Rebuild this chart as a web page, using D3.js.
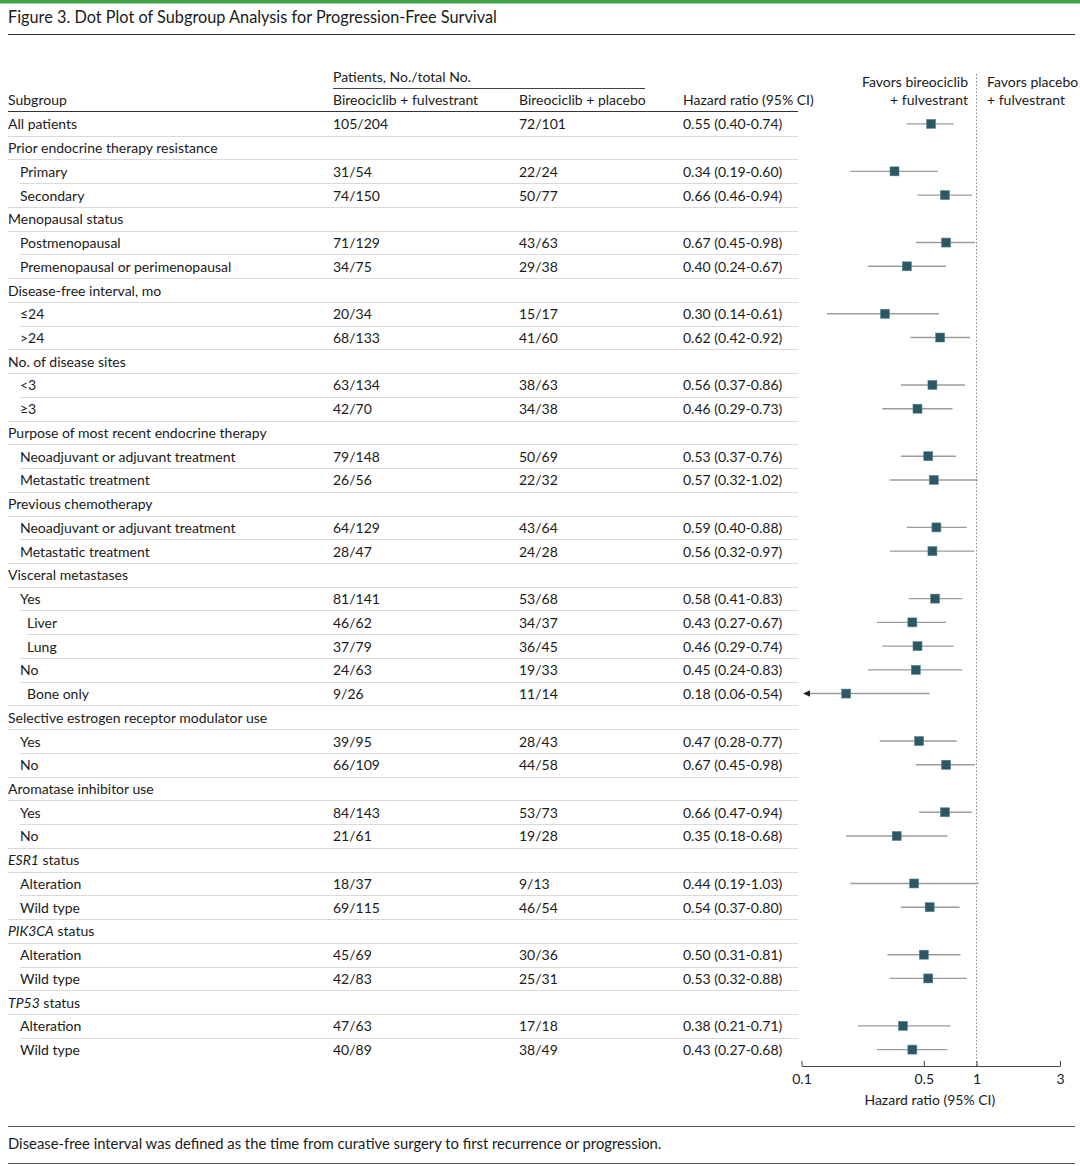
<!DOCTYPE html>
<html><head><meta charset="utf-8">
<script src="https://cdn.jsdelivr.net/npm/d3@7"></script>
<style>
body{margin:0;background:#fff}
svg{display:block}
text{font-family:Lato,"Noto Sans",sans-serif;fill:#1a1a1a}
</style>
</head><body>
<svg id="chart" width="1080" height="1166"></svg>
<script>
// ---------------- DATA ----------------
const labels = [
  "All patients","Prior endocrine therapy resistance","Primary","Secondary",
  "Menopausal status","Postmenopausal","Premenopausal or perimenopausal",
  "Disease-free interval, mo","≤24",">24",
  "No. of disease sites","<3","≥3",
  "Purpose of most recent endocrine therapy","Neoadjuvant or adjuvant treatment","Metastatic treatment",
  "Previous chemotherapy","Neoadjuvant or adjuvant treatment","Metastatic treatment",
  "Visceral metastases","Yes","Liver","Lung","No","Bone only",
  "Selective estrogen receptor modulator use","Yes","No",
  "Aromatase inhibitor use","Yes","No",
  "ESR1 status","Alteration","Wild type",
  "PIK3CA status","Alteration","Wild type",
  "TP53 status","Alteration","Wild type"
];
const levels = [0,0,1,1, 0,1,1, 0,1,1, 0,1,1, 0,1,1, 0,1,1, 0,1,2,2,1,2, 0,1,1, 0,1,1, 0,1,1, 0,1,1, 0,1,1];
const italicWords = ["","","","","","","","","","","","","","","","","","","","","","","","","","","","","","","","ESR1","","","PIK3CA","","","TP53","",""];
const armFulvestrant = ["105/204",null,"31/54","74/150",null,"71/129","34/75",null,"20/34","68/133",null,"63/134","42/70",null,"79/148","26/56",null,"64/129","28/47",null,"81/141","46/62","37/79","24/63","9/26",null,"39/95","66/109",null,"84/143","21/61",null,"18/37","69/115",null,"45/69","42/83",null,"47/63","40/89"];
const armPlacebo = ["72/101",null,"22/24","50/77",null,"43/63","29/38",null,"15/17","41/60",null,"38/63","34/38",null,"50/69","22/32",null,"43/64","24/28",null,"53/68","34/37","36/45","19/33","11/14",null,"28/43","44/58",null,"53/73","19/28",null,"9/13","46/54",null,"30/36","25/31",null,"17/18","38/49"];
const hazardRatio = [0.55,null,0.34,0.66,null,0.67,0.40,null,0.30,0.62,null,0.56,0.46,null,0.53,0.57,null,0.59,0.56,null,0.58,0.43,0.46,0.45,0.18,null,0.47,0.67,null,0.66,0.35,null,0.44,0.54,null,0.50,0.53,null,0.38,0.43];
const ciLow  = [0.40,null,0.19,0.46,null,0.45,0.24,null,0.14,0.42,null,0.37,0.29,null,0.37,0.32,null,0.40,0.32,null,0.41,0.27,0.29,0.24,0.06,null,0.28,0.45,null,0.47,0.18,null,0.19,0.37,null,0.31,0.32,null,0.21,0.27];
const ciHigh = [0.74,null,0.60,0.94,null,0.98,0.67,null,0.61,0.92,null,0.86,0.73,null,0.76,1.02,null,0.88,0.97,null,0.83,0.67,0.74,0.83,0.54,null,0.77,0.98,null,0.94,0.68,null,1.03,0.80,null,0.81,0.88,null,0.71,0.68];
const axisTicks = [0.1, 0.5, 1, 3];
const axisTickLabels = ["0.1","0.5","1","3"];

// ---------------- LAYOUT ----------------
const svg = d3.select("#chart");
const W = 1080;
const rows = labels.map((l,i)=>({i,label:l,level:levels[i],it:italicWords[i],a:armFulvestrant[i],b:armPlacebo[i],hr:hazardRatio[i],lo:ciLow[i],hi:ciHigh[i]}));
const y = d3.scaleBand().domain(d3.range(rows.length)).range([112, 1061.5]).padding(0);
const x = d3.scaleLog().domain([0.1, 3]).range([801.5, 1060]);
const indent = [8, 20, 27];
const colA = 333, colB = 519, colHR = 683, tableRight = 798;
const fs = 14;

// top green bar + title
svg.append("rect").attr("x",0).attr("y",0).attr("width",W).attr("height",3.5).attr("fill","#3fa046");
svg.append("text").attr("x",8).attr("y",23).attr("font-size",16.3).text("Figure 3. Dot Plot of Subgroup Analysis for Progression-Free Survival");
svg.append("line").attr("x1",8).attr("x2",1075).attr("y1",34.5).attr("y2",34.5).attr("stroke","#333").attr("stroke-width",1.2);

// headers
const hdr = svg.append("g").attr("font-size",fs);
hdr.append("text").attr("x",colA).attr("y",82).text("Patients, No./total No.");
hdr.append("line").attr("x1",colA).attr("x2",645).attr("y1",88.5).attr("y2",88.5).attr("stroke","#444").attr("stroke-width",1);
hdr.append("text").attr("x",8).attr("y",105).text("Subgroup");
hdr.append("text").attr("x",colA).attr("y",105).text("Bireociclib + fulvestrant");
hdr.append("text").attr("x",colB).attr("y",105).text("Bireociclib + placebo");
hdr.append("text").attr("x",colHR).attr("y",105).text("Hazard ratio (95% CI)");
hdr.append("line").attr("x1",8).attr("x2",tableRight).attr("y1",111.5).attr("y2",111.5).attr("stroke","#333").attr("stroke-width",1.2);
hdr.append("text").attr("x",968).attr("y",87).attr("text-anchor","end").text("Favors bireociclib");
hdr.append("text").attr("x",968).attr("y",105).attr("text-anchor","end").text("+ fulvestrant");
hdr.append("text").attr("x",987).attr("y",87).text("Favors placebo");
hdr.append("text").attr("x",987).attr("y",105).text("+ fulvestrant");

// reference line at HR = 1
svg.append("line").attr("x1",x(1)).attr("x2",x(1)).attr("y1",74).attr("y2",1066)
  .attr("stroke","#888").attr("stroke-width",1).attr("stroke-dasharray","1.5,2");

// separators
const sep = svg.append("g");
rows.slice(0,-1).forEach((r,k)=>{
  const next = rows[k+1];
  const sx = indent[Math.min(r.level,next.level)];
  const yy = Math.round(y(r.i)+y.bandwidth())+0.5;
  sep.append("line").attr("x1",sx).attr("x2",tableRight).attr("y1",yy).attr("y2",yy)
    .attr("stroke","#d9d9d9").attr("stroke-width",1);
});

// row texts
const tg = svg.append("g").attr("font-size",fs);
rows.forEach(r=>{
  const cy = y(r.i)+y.bandwidth()/2;
  const t = tg.append("text").attr("x",indent[r.level]).attr("y",cy+5.5);
  if(r.it){
    t.append("tspan").attr("font-style","italic").text(r.it);
    t.append("tspan").text(r.label.slice(r.it.length));
  } else t.text(r.label);
  if(r.a) tg.append("text").attr("x",colA).attr("y",cy+5.5).text(r.a);
  if(r.b) tg.append("text").attr("x",colB).attr("y",cy+5.5).text(r.b);
  if(r.hr!=null) tg.append("text").attr("x",colHR).attr("y",cy+5.5)
    .text(`${r.hr.toFixed(2)} (${r.lo.toFixed(2)}-${r.hi.toFixed(2)})`);
});

// CI lines + markers
const dom = x.domain();
const pg = svg.append("g");
rows.filter(r=>r.hr!=null).forEach(r=>{
  const cy = y(r.i)+y.bandwidth()/2;
  const lo = Math.max(r.lo, dom[0]), hi = Math.min(r.hi, dom[1]);
  const clipped = r.lo < dom[0];
  pg.append("line").attr("x1",x(lo)+(clipped?5:0)).attr("x2",x(hi)).attr("y1",cy).attr("y2",cy)
    .attr("stroke","#9b9b9b").attr("stroke-width",1.4);
  if(clipped){
    const ax = x(dom[0])+1.5;
    pg.append("path").attr("d",`M${ax},${cy} L${ax+7},${cy-3.2} L${ax+7},${cy+3.2} Z`).attr("fill","#222");
  }
  pg.append("rect").attr("x",x(r.hr)-4.5).attr("y",cy-4.5).attr("width",9).attr("height",9)
    .attr("fill","#2b5864").attr("stroke","#5e8790").attr("stroke-width",0.6);
});

// axis
const ax = svg.append("g").attr("transform","translate(0,1066)")
  .call(d3.axisBottom(x).tickValues(axisTicks).tickFormat((d,i)=>axisTickLabels[i]).tickSizeInner(-5).tickSizeOuter(0).tickPadding(8));
ax.select(".domain").attr("stroke","#444");
ax.selectAll(".tick line").attr("stroke","#444");
ax.selectAll(".tick text").attr("font-size",fs).attr("font-family","Lato,'Noto Sans',sans-serif").attr("fill","#1a1a1a");
svg.append("text").attr("x",x(0.5)+6).attr("y",1105).attr("text-anchor","middle").attr("font-size",fs).text("Hazard ratio (95% CI)");

// footnote
svg.append("line").attr("x1",8).attr("x2",1075).attr("y1",1126.5).attr("y2",1126.5).attr("stroke","#555").attr("stroke-width",1.2);
svg.append("text").attr("x",8).attr("y",1149).attr("font-size",14.8).text("Disease-free interval was defined as the time from curative surgery to first recurrence or progression.");
svg.append("line").attr("x1",8).attr("x2",1075).attr("y1",1163.5).attr("y2",1163.5).attr("stroke","#555").attr("stroke-width",1.2);
</script>
</body></html>
